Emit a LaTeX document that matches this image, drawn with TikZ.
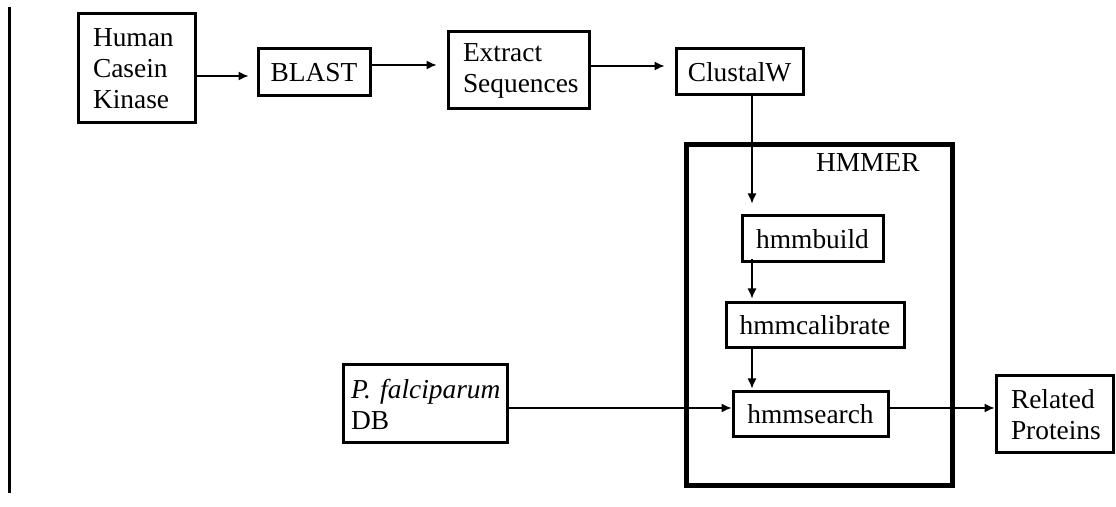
\documentclass[tikz,border=0pt]{standalone}
\usepackage{fontspec}
\setmainfont{Liberation Serif}
\usepackage{tikz}
\usetikzlibrary{arrows.meta}

\tikzset{
  box/.style={draw,line width=1.5pt,inner sep=0pt,align=center},
  lbox/.style={draw,line width=1.5pt,inner xsep=7.5pt,inner ysep=0pt,align=left},
  arr/.style={-{Latex[length=5pt,width=4.5pt]},line width=0.65pt},
}

\begin{document}
\begin{tikzpicture}[x=0.5pt,y=-0.5pt,font=\fontsize{13.7}{15.5}\selectfont]
\useasboundingbox (0,0) rectangle (1116,507);
\draw[line width=1.5pt] (9,7) -- (9,493);
% top row
\node (hck) at (136.5,68.5) [lbox,text width=43.5pt,minimum height=54.5pt] {Human\\Casein\\Kinase};
\node (blast) at (314,72.5) [box,minimum width=56pt,minimum height=23.5pt] {BLAST};
\node (extract) at (518.5,70.5) [lbox,text width=55.5pt,minimum height=38.5pt] {Extract\\Sequences};
\node (clustal) at (739.5,72) [box,minimum width=63.5pt,minimum height=23pt] {ClustalW};
% HMMER
\node (hmmer) at (819,315.5) [draw,line width=2.5pt,minimum width=133pt,minimum height=170.5pt] {};
\node (hmmerlbl) at (920,172) [anchor=base east,inner sep=0pt] {HMMER};
\node (hmmbuild) at (812.5,239) [box,minimum width=70.5pt,minimum height=23pt] {hmmbuild};
\node (hmmcal) at (815,325.5) [box,minimum width=89pt,minimum height=22.5pt] {hmmcalibrate};
\node (hmmsearch) at (810.5,414.5) [box,minimum width=77.5pt,minimum height=22.5pt] {hmmsearch};
\node (pfdb) at (425,404) [lbox,inner xsep=4pt,text width=74pt,minimum height=39pt] {\mbox{\textit{P. falciparum}}\\DB};
\node (related) at (1054.5,414.5) [lbox,text width=43.5pt,minimum height=38.5pt] {Related\\Proteins};
% arrows
\draw[arr,shorten >=4pt] (hck.east |- 0,76) -- (blast.west |- 0,76);
\draw[arr,shorten >=5pt] (blast.east |- 0,65) -- (extract.west |- 0,65);
\draw[arr,shorten >=5pt] (extract.east |- 0,66) -- (clustal.west |- 0,66);
\draw[arr,shorten >=5.5pt] (clustal.south -| 752,0) -- (hmmbuild.north -| 752,0);
\draw[arr,shorten <=-2pt,shorten >=1.5pt] (hmmbuild.south -| 752,0) -- (hmmcal.north -| 752,0);
\draw[arr,shorten <=-1pt,shorten >=1pt] (hmmcal.south -| 752,0) -- (hmmsearch.north -| 752,0);
\draw[arr] (pfdb.east |- 0,408) -- (hmmsearch.west |- 0,408);
\draw[arr] (hmmsearch.east |- 0,408) -- (related.west |- 0,408);
\end{tikzpicture}
\end{document}
